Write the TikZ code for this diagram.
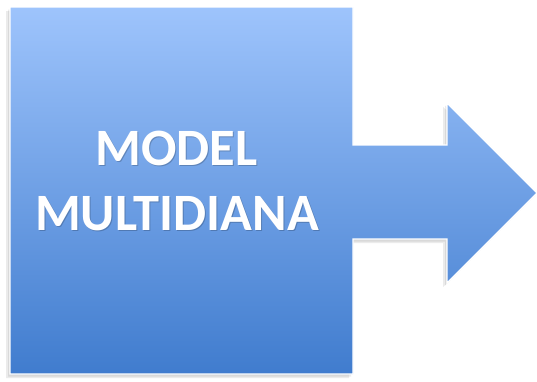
\documentclass[tikz,border=0pt]{standalone}
\usepackage{fontspec}
\setmainfont{Carlito}
\definecolor{topblue}{RGB}{158,196,252}
\definecolor{botblue}{RGB}{64,124,206}
\tikzset{
  bigtext/.style={text=white, font=\bfseries\fontsize{52.5}{65}\selectfont, anchor=base, inner sep=0pt},
  textshadow/.style={text=black, opacity=0.2, font=\bfseries\fontsize{52.5}{65}\selectfont, anchor=base, inner sep=0pt},
  shapefill/.style={top color=topblue, bottom color=botblue, draw=white, line width=1.3pt, line join=miter},
  softshadow/.style={fill=black, opacity=0.08}
}
\begin{document}
\begin{tikzpicture}[x=1pt,y=-1pt]
\useasboundingbox (0,0) rectangle (537,381);
\def\shapepath{(10,7) -- (353,7) -- (353,145) -- (447,145) -- (447,103) -- (537,193) -- (447,283) -- (447,239) -- (353,239) -- (353,374) -- (10,374) -- cycle}
\fill[softshadow] [shift={(-4,4)}] \shapepath;
\fill[softshadow] [shift={(-2,2.5)}] \shapepath;
\path[shapefill] \shapepath;
\node[textshadow] (s1) at (177.5,166.3) {MODEL};
\node[textshadow] (s2) at (178,231.3) {MULTIDIANA};
\node[bigtext] (t1) at (176.5,165) {MODEL};
\node[bigtext] (t2) at (177,230) {MULTIDIANA};
\end{tikzpicture}
\end{document}
